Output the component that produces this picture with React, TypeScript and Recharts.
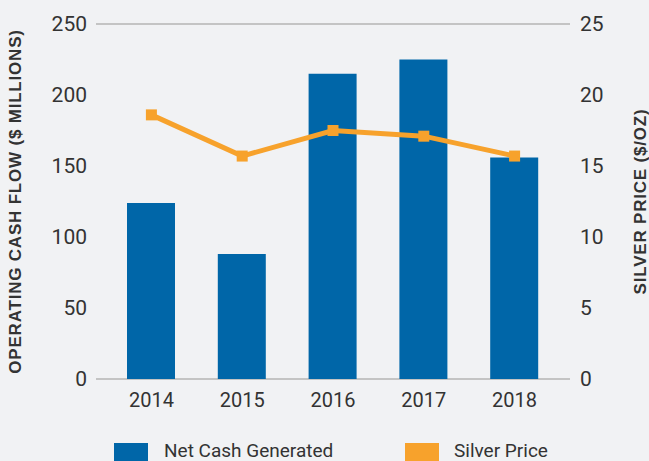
import { ComposedChart, Bar, Line, XAxis, YAxis, CartesianGrid, Legend } from "recharts";

const years = ["2014", "2015", "2016", "2017", "2018"];
const netCash = [124, 88, 215, 225, 156];
const silverPrice = [18.6, 15.7, 17.5, 17.1, 15.7];
const leftTicks = [0, 50, 100, 150, 200, 250];
const rightTicks = [0, 5, 10, 15, 20, 25];

const BLUE = "#0066a8";
const ORANGE = "#f7a22c";
const TEXT = "#333333";
const FONT = "Roboto, 'Liberation Sans', sans-serif";
const TITLE_FONT = "'Liberation Sans', Arial, sans-serif";

const data = years.map((year, i) => ({
  year,
  cash: netCash[i],
  silver: silverPrice[i],
}));

const SquareDot = (props: any) => {
  const { cx, cy } = props;
  if (cx == null || cy == null) return null;
  return <rect x={cx - 5.5} y={cy - 5.5} width={11} height={11} fill={ORANGE} />;
};

const LegendContent = () => (
  <div style={{ position: "relative", height: 38, fontFamily: FONT, fontSize: 19, color: TEXT }}>
    <div style={{ position: "absolute", left: 114, top: 20, width: 34, height: 20, background: BLUE }} />
    <span style={{ position: "absolute", left: 164, top: 16, lineHeight: "24px" }}>Net Cash Generated</span>
    <div style={{ position: "absolute", left: 405, top: 20, width: 34, height: 20, background: ORANGE }} />
    <span style={{ position: "absolute", left: 454, top: 16, lineHeight: "24px" }}>Silver Price</span>
  </div>
);

export default function App() {
  return (
    <div style={{ position: "absolute", left: 0, top: 0, width: 649, height: 461, background: "#f1f2f4", overflow: "hidden" }}>
      <ComposedChart
        width={649}
        height={461}
        data={data}
        margin={{ top: 24, right: 0, left: 0, bottom: 0 }}
      >
        <CartesianGrid vertical={false} stroke="#b4b4b4" strokeWidth={1.5} />
        <XAxis
          dataKey="year"
          axisLine={false}
          tickLine={false}
          padding={{ left: 10, right: 10 }}
          height={44}
          tickMargin={8}
          tick={{ fill: TEXT, fontSize: 20, fontFamily: FONT }}
        />
        <YAxis
          yAxisId="left"
          domain={[0, 250]}
          ticks={leftTicks}
          width={96}
          axisLine={false}
          tickLine={false}
          tickMargin={3}
          tick={{ fill: TEXT, fontSize: 21, fontFamily: FONT }}
          label={{
            value: "OPERATING CASH FLOW ($ MILLIONS)",
            angle: -90,
            position: "insideLeft",
            offset: 15,
            style: { textAnchor: "middle", fill: TEXT, fontSize: 17, fontWeight: 700, fontFamily: TITLE_FONT, letterSpacing: 0.8 },
          }}
        />
        <YAxis
          yAxisId="right"
          orientation="right"
          domain={[0, 25]}
          ticks={rightTicks}
          width={79}
          axisLine={false}
          tickLine={false}
          tickMargin={4}
          tick={{ fill: TEXT, fontSize: 21, fontFamily: FONT, textAnchor: "start" }}
          label={{
            value: "SILVER PRICE ($/OZ)",
            angle: -90,
            position: "insideRight",
            offset: 9,
            style: { textAnchor: "middle", fill: TEXT, fontSize: 17, fontWeight: 700, fontFamily: TITLE_FONT, letterSpacing: 0.8 },
          }}
        />
        <Legend verticalAlign="bottom" height={38} content={<LegendContent />} />
        <Bar yAxisId="left" dataKey="cash" name="Net Cash Generated" fill={BLUE} barSize={48} isAnimationActive={false} />
        <Line
          yAxisId="right"
          dataKey="silver"
          name="Silver Price"
          stroke={ORANGE}
          strokeWidth={5}
          dot={<SquareDot />}
          activeDot={false}
          isAnimationActive={false}
        />
      </ComposedChart>
    </div>
  );
}
